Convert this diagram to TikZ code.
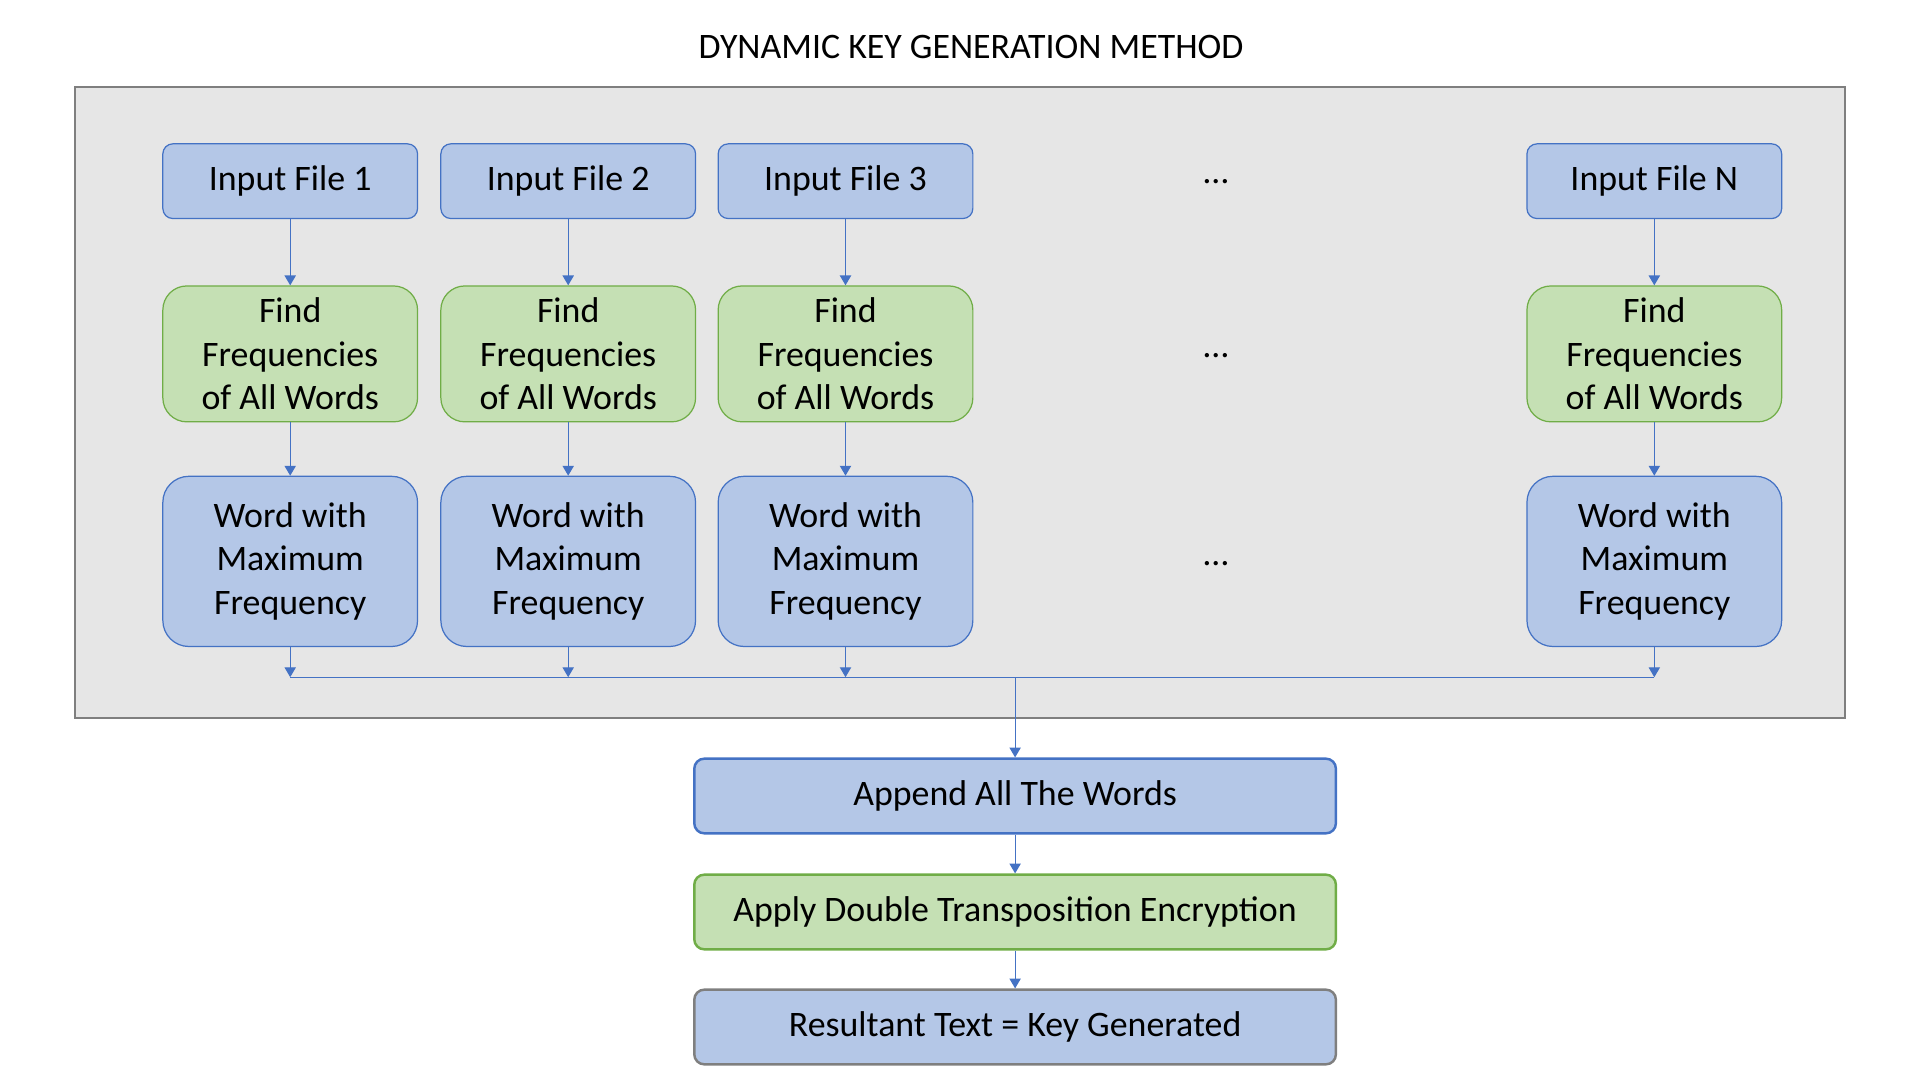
\documentclass[tikz,border=0pt]{standalone}
\usepackage{fontspec}
\setmainfont{Carlito}
\usetikzlibrary{arrows.meta, positioning}

\definecolor{boxblue}{HTML}{B4C7E7}
\definecolor{lineblue}{HTML}{4472C4}
\definecolor{boxgreen}{HTML}{C5E0B4}
\definecolor{linegreen}{HTML}{70AD47}
\definecolor{framegray}{HTML}{E6E6E6}
\definecolor{edgegray}{HTML}{7F7F7F}

\tikzset{
 every node/.style={font=\fontsize{10.2}{12.4}\selectfont, text=black},
 inbox/.style={draw=lineblue, fill=boxblue, line width=0.35pt, rounded corners=0.1cm,
  minimum width=2.547cm, minimum height=0.747cm, inner sep=0pt, align=center},
 freqbox/.style={draw=linegreen, fill=boxgreen, line width=0.35pt, rounded corners=0.24cm,
  minimum width=2.547cm, minimum height=1.359cm, inner sep=0pt, align=center},
 wordbox/.style={draw=lineblue, fill=boxblue, line width=0.35pt, rounded corners=0.26cm,
  minimum width=2.547cm, minimum height=1.702cm, inner sep=0pt, align=center},
 widebox/.style={fill=#1, rounded corners=0.1cm, line width=0.7pt,
  minimum width=6.416cm, minimum height=0.747cm, inner sep=0pt},
 flow/.style={draw=lineblue, line width=0.35pt, -{Triangle[length=2.8pt, width=3.2pt]}},
}

\begin{document}
\begin{tikzpicture}
 \useasboundingbox (0,0) rectangle (19.2,-10.8);
 % titel und rahmen
 \node (title) at (9.71,-0.465) {DYNAMIC KEY GENERATION METHOD};
 \draw[fill=framegray, draw=edgegray, line width=0.6pt] (0.747,-0.87) rectangle (18.45,-7.176);

 % spalten
 \foreach \i/\x/\lab in {1/2.902/1, 2/5.682/2, 3/8.455/3, n/16.543/N}{
  \node[inbox] (in\i) at (\x,-1.812) {Input File \lab};
  \node[freqbox] (fq\i) at (\x,-3.539) {Find\\Frequencies\\of All Words};
  \node[wordbox] (wd\i) at (\x,-5.614) {Word with\\Maximum\\Frequency};
  \coordinate (bus\i) at (\x,-6.772);
  \draw[flow] (in\i) -- (fq\i);
  \draw[flow] (fq\i) -- (wd\i);
  \draw[flow] (wd\i) -- (bus\i);
 }
 \node (dots1) at (12.159,-1.812) {…};
 \node (dots2) at (12.159,-3.56) {…};
 \node (dots3) at (12.159,-5.64) {…};
 \draw[draw=lineblue, line width=0.35pt] (bus1) -- (busn);

 % untere kette
 \node[widebox=boxblue, draw=lineblue] (append) at (10.151,-7.96) {Append All The Words};
 \node[widebox=boxgreen, draw=linegreen] (apply) at (10.151,-9.12) {Apply Double Transposition Encryption};
 \node[widebox=boxblue, draw=edgegray] (result) at (10.151,-10.27) {Resultant Text = Key Generated};
 \coordinate (join) at (append.north |- bus1);
 \draw[flow] (join) -- (append);
 \draw[flow] (append) -- (apply);
 \draw[flow] (apply) -- (result);
\end{tikzpicture}
\end{document}
